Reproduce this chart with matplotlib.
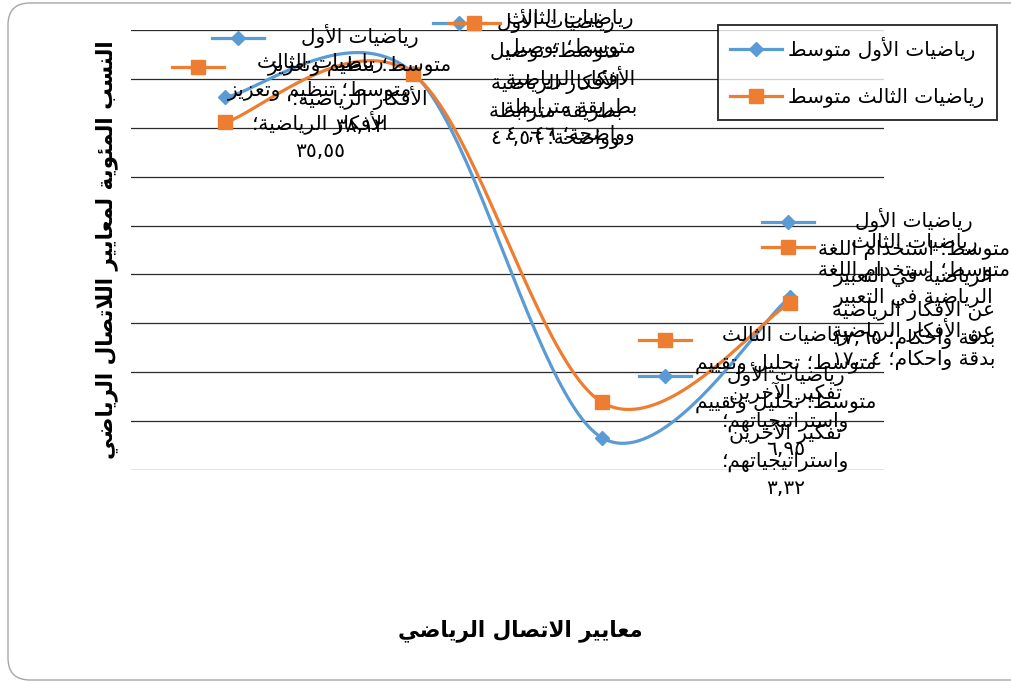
import re
import numpy as np
import matplotlib
matplotlib.use('Agg')
import matplotlib.pyplot as plt
from matplotlib.lines import Line2D
from matplotlib.patches import PathPatch
from matplotlib.path import Path
from matplotlib.transforms import ScaledTranslation

# data
categories = ["تنظيم وتعزيز الأفكار الرياضية",
              "توصيل الأفكار الرياضية بطريقة مترابطة وواضحة",
              "تحليل وتقييم تفكير الآخرين واستراتيجياتهم",
              "استخدام اللغة الرياضية في التعبير عن الأفكار الرياضية بدقة واحكام"]
series_names = ["رياضيات الأول متوسط", "رياضيات الثالث متوسط"]
first_values = [38.12, 40.56, 3.32, 17.65]
third_values = [35.55, 40.46, 6.95, 17.04]
# words per line in each data label (Excel wraps them)
label_breaks = [[2, 3, 2, 1], [2, 2, 2, 2, 2], [2, 3, 2, 1, 1], [2, 3, 3, 3, 3]]
x_title = "معايير الاتصال الرياضي"
y_title = "النسب المئوية لمعايير اللاتصال الرياضي"

colors = ['#5B9BD5', '#ED7D31']
markers = ['D', 's']
msizes = [7.5, 9.5]
# label placement, pixels from the point to the centre of the first line
label_dx = [[135, 142, 184, 124], [95, 157, 184, 124]]
label_dy = [[-59, -50, -62, -75], [-55, -51, -62, -56]]

# --- simple arabic shaping, matplotlib does not join arabic letters ---
AR_LETTERS = "ءآأؤإئابةتثجحخدذرزسشصضطظعغفقكلمنهوىي"
AR_NFORMS = [1, 2, 2, 2, 2, 4, 2, 4, 2, 4, 4, 4, 4, 4, 2, 2, 2, 2,
             4, 4, 4, 4, 4, 4, 4, 4, 4, 4, 4, 4, 4, 4, 4, 2, 2, 4]
FORMS = {}
code = 0xFE80
for ch, n in zip(AR_LETTERS, AR_NFORMS):
    FORMS[ch] = [chr(code + k) for k in range(n)]
    code += n
for alef, code in zip("آأإا", (0xFEF5, 0xFEF7, 0xFEF9, 0xFEFB)):
    FORMS['ل' + alef] = [chr(code), chr(code + 1)]
AR_DIGITS = str.maketrans('0123456789', '٠١٢٣٤٥٦٧٨٩')


def shape_line(line):
    tokens = []
    i = 0
    while i < len(line):
        if len(line[i:i + 2]) == 2 and line[i:i + 2] in FORMS:
            tokens.append(line[i:i + 2])
            i += 2
        else:
            tokens.append(line[i])
            i += 1
    out = []
    for j, t in enumerate(tokens):
        forms = FORMS.get(t)
        if forms is None:
            out.append(t)
            continue
        prev = FORMS.get(tokens[j - 1]) if j > 0 else None
        nxt = FORMS.get(tokens[j + 1]) if j + 1 < len(tokens) else None
        jp = len(forms) > 1 and prev is not None and len(prev) == 4
        jn = len(forms) == 4 and nxt is not None and len(nxt) > 1
        out.append(forms[{(False, False): 0, (True, False): 1,
                          (False, True): 2, (True, True): 3}[(jp, jn)]])
    visual = ''.join(out)[::-1]
    # numbers stay left to right
    return re.sub(r'[0-9\u0660-\u0669][0-9\u0660-\u0669,.]*',
                  lambda m: m.group()[::-1], visual)


def ar(text):
    return '\n'.join(shape_line(l) for l in text.split('\n'))


def smooth(xs, ys, n=50):
    # excel style smoothed line (bezier, 1/6 tangents)
    P = np.column_stack([xs, ys]).astype(float)
    ext = np.vstack([P[0], P, P[-1]])
    t = np.linspace(0, 1, n)[:, None]
    segs = []
    for i in range(len(P) - 1):
        p0, p3 = P[i], P[i + 1]
        c1 = p0 + (ext[i + 2] - ext[i]) / 6
        c2 = p3 - (ext[i + 3] - ext[i + 1]) / 6
        segs.append((1 - t) ** 3 * p0 + 3 * (1 - t) ** 2 * t * c1
                    + 3 * (1 - t) * t ** 2 * c2 + t ** 3 * p3)
    return np.vstack(segs)


plt.rcParams['font.family'] = ['DejaVu Sans']
W, H = 1011, 681
fig = plt.figure(figsize=(W / 100, H / 100), dpi=100)
ax = fig.add_axes([131 / W, 1 - 470 / H, 753 / W, 440 / H])

x = np.arange(len(categories))
all_values = [first_values, third_values]

for k, vals in enumerate(all_values):
    curve = smooth(x, vals)
    ax.plot(curve[:, 0], curve[:, 1], color=colors[k], lw=2.3, zorder=3 + k,
            clip_on=False, solid_capstyle='round')
    ax.plot(x, vals, ls='none', marker=markers[k], ms=msizes[k],
            color=colors[k], zorder=3 + k, clip_on=False)

ax.set_xlim(-0.5, len(categories) - 0.5)
ax.set_ylim(0, 45)
ax.set_yticks(np.arange(0, 46, 5))
ax.set_xticks([])
ax.tick_params(left=False, labelleft=False)
ax.grid(axis='y', color='#2a2a2a', lw=0.9)
ax.set_axisbelow(True)
for s in ax.spines.values():
    s.set_visible(False)

# data labels (series; category; value) with their legend keys
half_line = 14
labels = []
for k, vals in enumerate(all_values):
    for i, v in enumerate(vals):
        val = f"{v:.2f}".replace('.', ',').translate(AR_DIGITS)
        words = (series_names[k] + '؛ ' + categories[i] + '؛ ' + val).split(' ')
        lines, pos = [], 0
        for nb in label_breaks[i]:
            lines.append(' '.join(words[pos:pos + nb]))
            pos += nb
        shift = ScaledTranslation(label_dx[k][i] / 100,
                                  -(label_dy[k][i] - half_line) / 100,
                                  fig.dpi_scale_trans)
        txt = ax.text(i, v, ar('\n'.join(lines)), transform=ax.transData + shift,
                      ha='center', va='top', multialignment='center',
                      fontsize=14.5, linespacing=1.5, color='black', zorder=6)
        labels.append((txt, k))

fig.canvas.draw()
renderer = fig.canvas.get_renderer()
for txt, k in labels:
    bb = txt.get_window_extent(renderer)
    xr = bb.x0 - 4
    yc = bb.y1 - half_line
    fig.add_artist(Line2D([(xr - 52) / W, xr / W], [yc / H, yc / H],
                          transform=fig.transFigure, color=colors[k], lw=2.3, zorder=6))
    fig.add_artist(Line2D([(xr - 26) / W], [yc / H], transform=fig.transFigure,
                          ls='none', marker=markers[k], ms=msizes[k],
                          color=colors[k], zorder=6))

# legend
handles = [Line2D([], [], color=colors[k], lw=2.3, marker=markers[k], ms=msizes[k])
           for k in range(2)]
leg = fig.legend(handles, [ar(s) for s in series_names], loc='upper left',
                 bbox_to_anchor=(718 / W, 1 - 25 / H), fontsize=14.5,
                 frameon=True, fancybox=False, edgecolor='black',
                 handlelength=2.6, labelspacing=1.35, borderpad=0.6,
                 handletextpad=0.3, borderaxespad=0)
leg.get_frame().set_linewidth(1.4)

fig.text(520 / W, 1 - 631 / H, ar(x_title), ha='center', va='center',
         fontsize=15.5, fontweight='bold')
fig.text(107 / W, 1 - 250 / H, ar(y_title), ha='center', va='center',
         rotation=90, fontsize=15.5, fontweight='bold')

# chart area border (open on the right, it runs off the picture)
x0, y0, y1, r = 8, H - 680, H - 3, 22
verts = [(W + 40, y1), (x0 + r, y1), (x0, y1), (x0, y1 - r), (x0, y0 + r),
         (x0, y0), (x0 + r, y0), (W + 40, y0)]
codes = [Path.MOVETO, Path.LINETO, Path.CURVE3, Path.CURVE3, Path.LINETO,
         Path.CURVE3, Path.CURVE3, Path.LINETO]
border = PathPatch(Path([(a / W, b / H) for a, b in verts], codes),
                   transform=fig.transFigure, fc='none', ec='#a6a6a6', lw=1.0,
                   zorder=0)
fig.add_artist(border)

fig.savefig('out.png', dpi=100)
